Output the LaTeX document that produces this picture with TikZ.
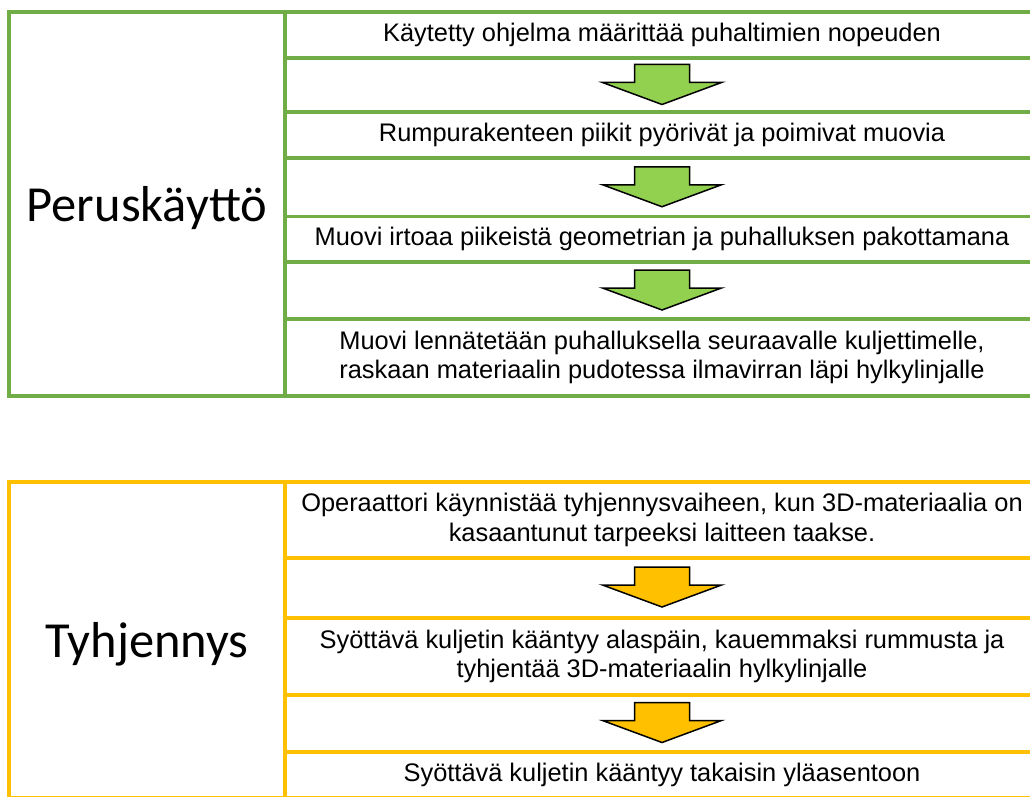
\documentclass[tikz,border=0pt]{standalone}
\usepackage{fontspec}
\setmainfont{Liberation Sans}
\newfontfamily\calibri{Carlito}
\definecolor{linegreen}{HTML}{70AD47}
\definecolor{fillgreen}{HTML}{92D050}
\definecolor{lineyellow}{HTML}{FFC000}
\tikzset{
  cell/.style={rectangle, inner sep=0pt, line width=3.5pt, minimum width=754pt, align=center, font=\fontsize{25.4}{29.5}\selectfont},
  phase/.style={rectangle, inner sep=0pt, line width=3.5pt, minimum width=276pt, text depth=0pt, font=\calibri\fontsize{50.5}{60}\selectfont},
  pics/downarrow/.style={code={\draw [line width=1.5pt, fill=#1] (-27.5,-20) -- (27.5,-20) -- (27.5,-2) -- (59.5,-2) -- (0,20) -- (-59.5,-2) -- (-27.5,-2) -- cycle;}}
}
\begin{document}
\begin{tikzpicture}
[x=1pt, y=-1pt]
\useasboundingbox (0,0) rectangle (1030,797);
\node (pk) [phase, draw=linegreen, minimum height=384pt] at (147, 204) {Peruskäyttö};
\node (p1) [cell, draw=linegreen, minimum height=46pt] at (662, 35) {Käytetty ohjelma määrittää puhaltimien nopeuden};
\node (p2) [cell, draw=linegreen, minimum height=54pt] at (662, 85) {};
\node (p3) [cell, draw=linegreen, minimum height=46pt] at (662, 135) {Rumpurakenteen piikit pyörivät ja poimivat muovia};
\node (p4) [cell, draw=linegreen, minimum height=58.5pt] at (662, 187.25) {};
\node (p5) [cell, draw=linegreen, minimum height=45.5pt] at (662, 239.25) {Muovi irtoaa piikeistä geometrian ja puhalluksen pakottamana};
\node (p6) [cell, draw=linegreen, minimum height=57pt] at (662, 290.5) {};
\node (p7) [cell, draw=linegreen, minimum height=77pt] at (662, 357.5) {Muovi lennätetään puhalluksella seuraavalle kuljettimelle,\\raskaan materiaalin pudotessa ilmavirran läpi hylkylinjalle};
\pic at ([yshift=0.5pt]p2.center) {downarrow=fillgreen};
\pic at ([yshift=0.5pt]p4.center) {downarrow=fillgreen};
\pic at ([yshift=0.5pt]p6.center) {downarrow=fillgreen};
\node (ty) [phase, draw=lineyellow, minimum height=316pt] at (147, 640) {Tyhjennys};
\node (t1) [cell, draw=lineyellow, minimum height=76pt] at (662, 520) {Operaattori käynnistää tyhjennysvaiheen, kun 3D-materiaalia on\\kasaantunut tarpeeksi laitteen taakse.};
\node (t2) [cell, draw=lineyellow, minimum height=60pt] at (662, 588) {};
\node (t3) [cell, draw=lineyellow, minimum height=77pt] at (662, 656.5) {Syöttävä kuljetin kääntyy alaspäin, kauemmaksi rummusta ja\\tyhjentää 3D-materiaalin hylkylinjalle};
\node (t4) [cell, draw=lineyellow, minimum height=57pt] at (662, 723.5) {};
\node (t5) [cell, draw=lineyellow, minimum height=46pt] at (662, 775) {Syöttävä kuljetin kääntyy takaisin yläasentoon};
\pic at ([yshift=1pt]t2.center) {downarrow=lineyellow};
\pic at ([yshift=1pt]t4.center) {downarrow=lineyellow};
\end{tikzpicture}
\end{document}
